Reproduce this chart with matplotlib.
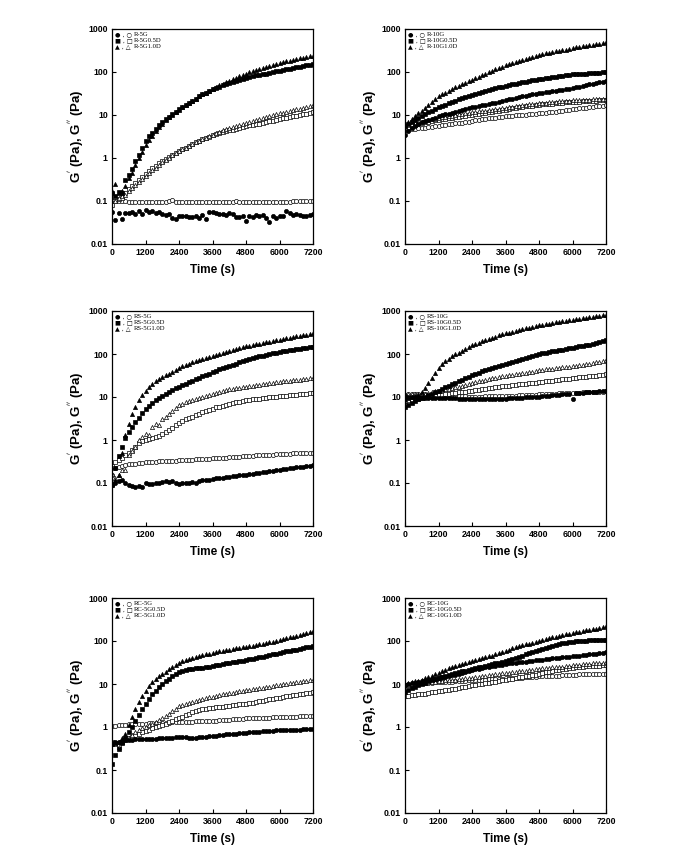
import numpy as np
import matplotlib
matplotlib.use("Agg")
import matplotlib.pyplot as plt

plt.rcParams['font.family'] = ['Liberation Sans', 'DejaVu Sans']

# time grid (s), one point every 120 s
time_s = np.arange(0, 7201, 120)

# ---------------- R-5G ----------------
r5g_gp = [0.055, 0.036, 0.052, 0.038, 0.052, 0.052, 0.055, 0.050, 0.058, 0.050, 0.062,
          0.056, 0.058, 0.052, 0.055, 0.050, 0.048, 0.050, 0.040, 0.038, 0.045,
          0.045, 0.046, 0.042, 0.042, 0.044, 0.040, 0.048, 0.038, 0.056, 0.055,
          0.052, 0.050, 0.050, 0.048, 0.052, 0.050, 0.042, 0.043, 0.045, 0.035,
          0.044, 0.042, 0.048, 0.046, 0.048, 0.040, 0.032, 0.044, 0.040, 0.046,
          0.045, 0.058, 0.054, 0.048, 0.050, 0.048, 0.045, 0.046, 0.048, 0.050]
r5g_gpp = [0.100, 0.100, 0.100, 0.098, 0.098, 0.097, 0.097, 0.096, 0.096, 0.095, 0.097,
           0.097, 0.096, 0.095, 0.096, 0.097, 0.096, 0.098, 0.105, 0.097, 0.096,
           0.096, 0.095, 0.095, 0.096, 0.095, 0.096, 0.095, 0.094, 0.095, 0.094,
           0.094, 0.095, 0.094, 0.095, 0.096, 0.097, 0.102, 0.097, 0.096, 0.095,
           0.094, 0.095, 0.095, 0.096, 0.094, 0.095, 0.095, 0.094, 0.096, 0.095,
           0.096, 0.095, 0.097, 0.098, 0.099, 0.099, 0.100, 0.101, 0.100, 0.100]
r5g05_gp = [0.15, 0.13, 0.16, 0.15, 0.30, 0.40, 0.55, 0.85, 1.2, 1.7, 2.5,
            3.2, 3.9, 4.8, 5.8, 6.8, 8.0, 9.2, 10.5, 12, 13.5,
            15.5, 17, 19, 21, 24, 27, 30, 33, 36, 40,
            43, 46, 49, 52, 55, 58, 62, 66, 70, 74,
            77, 80, 83, 86, 89, 92, 96, 100, 104, 108,
            112, 116, 120, 124, 128, 133, 138, 143, 149, 155]
r5g05_gpp = [0.08, 0.10, 0.11, 0.12, 0.15, 0.19, 0.22, 0.26, 0.30, 0.36, 0.42,
             0.50, 0.58, 0.66, 0.75, 0.85, 0.95, 1.05, 1.2, 1.3, 1.45,
             1.6, 1.75, 1.9, 2.1, 2.3, 2.5, 2.7, 2.9, 3.1, 3.4,
             3.6, 3.8, 4.0, 4.2, 4.4, 4.6, 4.8, 5.0, 5.2, 5.5,
             5.7, 5.9, 6.1, 6.3, 6.6, 6.8, 7.1, 7.4, 7.7, 8.0,
             8.3, 8.6, 9.0, 9.3, 9.7, 10.0, 10.4, 10.8, 11.2, 11.5]
r5g10_gp = [0.17, 0.25, 0.15, 0.17, 0.22, 0.35, 0.45, 0.70, 1.0, 1.4, 2.0,
            2.6, 3.3, 4.2, 5.2, 6.3, 7.5, 8.8, 10, 11.5, 13,
            15, 17, 19, 21, 24, 27, 30, 33, 36, 40,
            45, 49, 53, 58, 63, 68, 73, 79, 85, 92,
            98, 104, 110, 117, 124, 131, 138, 145, 152, 160,
            168, 176, 184, 192, 200, 208, 216, 224, 232, 240]
r5g10_gpp = [0.11, 0.10, 0.12, 0.13, 0.14, 0.17, 0.20, 0.24, 0.28, 0.33, 0.38,
             0.45, 0.52, 0.60, 0.70, 0.80, 0.90, 1.0, 1.15, 1.3, 1.45,
             1.6, 1.75, 1.9, 2.1, 2.3, 2.5, 2.7, 2.9, 3.2, 3.5,
             3.8, 4.1, 4.4, 4.7, 5.0, 5.3, 5.6, 5.9, 6.2, 6.6,
             7.0, 7.4, 7.8, 8.2, 8.6, 9.0, 9.4, 9.9, 10.4, 10.9,
             11.4, 11.9, 12.4, 12.9, 13.5, 14.1, 14.7, 15.4, 16.1, 17]

# ---------------- R-10G ----------------
r10g_gp = [3.5, 4.2, 4.9, 5.5, 6.1, 6.7, 7.2, 7.7, 8.2, 8.7, 9.3,
           9.8, 10.3, 10.8, 11.3, 11.8, 12.3, 12.9, 13.5, 14.2, 15,
           15.6, 16.2, 16.8, 17.4, 18, 18.6, 19.3, 20, 21, 22,
           23, 24, 25, 26, 27, 28, 29, 30, 31, 32,
           33, 34, 35, 36, 37, 38, 39, 40, 41, 42,
           44, 46, 48, 50, 52, 54, 56, 58, 60, 62]
r10g_gpp = [4.5, 4.6, 4.7, 4.8, 4.9, 5.0, 5.1, 5.2, 5.3, 5.45, 5.6,
            5.75, 5.9, 6.05, 6.2, 6.35, 6.5, 6.65, 6.8, 7.0, 7.3,
            7.5, 7.7, 7.9, 8.1, 8.3, 8.5, 8.7, 8.9, 9.1, 9.3,
            9.45, 9.6, 9.75, 9.9, 10.05, 10.2, 10.4, 10.6, 10.8, 11,
            11.2, 11.4, 11.6, 11.8, 12, 12.3, 12.6, 12.9, 13.3, 13.7,
            14, 14.3, 14.6, 14.9, 15.2, 15.5, 15.8, 16.2, 16.6, 17]
r10g05_gp = [5.5, 6.2, 7.0, 7.8, 8.6, 9.5, 10.5, 11.5, 12.6, 13.8, 15,
             16.2, 17.4, 18.6, 20, 21.5, 23, 24.5, 26, 27.5, 29,
             30.5, 32, 34, 36, 38, 40, 42, 44, 46, 48,
             50, 52, 54, 56, 58, 60, 62, 64, 66, 68,
             70, 72, 74, 76, 78, 80, 82, 84, 86, 88,
             89, 90, 91, 92, 94, 95, 96, 97, 98, 100]
r10g05_gpp = [5.0, 5.3, 5.6, 5.9, 6.2, 6.5, 6.8, 7.0, 7.3, 7.5, 7.7,
              7.9, 8.1, 8.3, 8.5, 8.8, 9.0, 9.3, 9.5, 9.8, 10,
              10.3, 10.6, 10.9, 11.2, 11.5, 11.8, 12.2, 12.6, 13, 13.4,
              13.8, 14.2, 14.6, 15, 15.4, 15.8, 16.2, 16.6, 17, 17.3,
              17.6, 17.9, 18.2, 18.5, 18.8, 19.1, 19.4, 19.7, 20, 20.2,
              20.4, 20.6, 20.8, 21, 21.2, 21.4, 21.6, 21.8, 22, 22]
r10g10_gp = [6, 7, 8, 9.5, 11, 12.5, 14.5, 17, 20, 23, 27,
             30, 33, 36, 40, 44, 48, 52, 56, 61, 66,
             72, 78, 85, 92, 100, 108, 116, 124, 133, 145,
             155, 165, 175, 185, 195, 205, 215, 225, 235, 248,
             260, 270, 280, 290, 300, 310, 320, 332, 345, 360,
             372, 384, 396, 408, 420, 432, 445, 458, 472, 490]
r10g10_gpp = [5.5, 5.8, 6.1, 6.4, 6.7, 7.0, 7.3, 7.6, 7.9, 8.2, 8.5,
              8.8, 9.1, 9.4, 9.7, 10, 10.3, 10.6, 10.9, 11.2, 11.5,
              11.8, 12.1, 12.4, 12.7, 13, 13.3, 13.6, 14, 14.4, 14.8,
              15.2, 15.6, 16, 16.4, 16.8, 17.2, 17.6, 18, 18.4, 18.8,
              19.2, 19.5, 19.8, 20.1, 20.4, 20.7, 21, 21.3, 21.6, 21.9,
              22.1, 22.3, 22.5, 22.7, 22.9, 23.1, 23.3, 23.5, 23.7, 24]

# ---------------- RS-5G ----------------
rs5g_gp = [0.09, 0.10, 0.11, 0.12, 0.10, 0.09, 0.085, 0.08, 0.083, 0.082, 0.10,
           0.095, 0.095, 0.098, 0.10, 0.105, 0.11, 0.105, 0.11, 0.10, 0.095,
           0.10, 0.10, 0.10, 0.105, 0.10, 0.11, 0.115, 0.12, 0.12, 0.125,
           0.128, 0.13, 0.133, 0.136, 0.14, 0.143, 0.146, 0.15, 0.153, 0.157,
           0.16, 0.165, 0.17, 0.175, 0.18, 0.185, 0.19, 0.195, 0.20, 0.205,
           0.21, 0.215, 0.22, 0.225, 0.23, 0.235, 0.24, 0.245, 0.25, 0.26]
rs5g_gpp = [0.15, 0.22, 0.24, 0.25, 0.26, 0.27, 0.27, 0.28, 0.29, 0.29, 0.30,
            0.30, 0.31, 0.31, 0.32, 0.32, 0.32, 0.33, 0.33, 0.33, 0.34,
            0.34, 0.34, 0.35, 0.35, 0.36, 0.36, 0.37, 0.37, 0.37, 0.38,
            0.38, 0.38, 0.39, 0.39, 0.40, 0.40, 0.41, 0.41, 0.42, 0.42,
            0.43, 0.43, 0.44, 0.44, 0.45, 0.45, 0.46, 0.46, 0.47, 0.47,
            0.48, 0.48, 0.48, 0.49, 0.49, 0.49, 0.50, 0.50, 0.51, 0.51]
rs5g05_gp = [0.09, 0.22, 0.42, 0.7, 1.1, 1.5, 2.0, 2.6, 3.3, 4.2, 5.2,
             6.3, 7.4, 8.5, 9.6, 10.8, 12, 13.3, 14.6, 16, 17.5,
             19, 20.5, 22, 24, 26, 28, 30, 32.5, 35, 38,
             41, 44, 47, 50, 53, 56, 60, 64, 68, 72,
             76, 80, 84, 88, 92, 96, 100, 104, 108, 112,
             116, 120, 124, 127, 130, 133, 137, 141, 145, 148]
rs5g05_gpp = [0.25, 0.30, 0.35, 0.38, 0.45, 0.50, 0.60, 0.70, 0.85, 0.95, 1.0,
              1.05, 1.1, 1.2, 1.25, 1.35, 1.5, 1.7, 1.95, 2.2, 2.5,
              2.75, 3.0, 3.25, 3.5, 3.8, 4.1, 4.4, 4.7, 5.0, 5.4,
              5.7, 6.0, 6.3, 6.6, 6.9, 7.2, 7.5, 7.8, 8.1, 8.4,
              8.6, 8.8, 9.0, 9.2, 9.4, 9.6, 9.8, 10, 10.2, 10.4,
              10.6, 10.8, 11, 11.2, 11.4, 11.6, 11.8, 12, 12.2, 12.4]
rs5g10_gp = [0.10, 0.12, 0.15, 0.5, 1.3, 2.3, 4.0, 6.0, 8.5, 11, 14,
             17, 20, 23, 26, 29, 32, 35, 39, 43, 47,
             52, 56, 60, 64, 68, 72, 76, 81, 86, 92,
             97, 102, 107, 112, 118, 124, 130, 136, 142, 150,
             156, 162, 168, 174, 180, 187, 194, 201, 208, 216,
             224, 232, 240, 248, 256, 264, 272, 281, 290, 300]
rs5g10_gpp = [0.16, 0.13, 0.15, 0.2, 0.2, 0.45, 0.55, 0.7, 1.0, 1.2, 1.4,
              1.3, 2.0, 2.3, 2.2, 3.0, 3.5, 4.1, 4.8, 5.6, 6.5,
              7.0, 7.5, 8.0, 8.5, 9.0, 9.6, 10.2, 10.8, 11.4, 12,
              12.6, 13.2, 13.8, 14.4, 15, 15.5, 16, 16.5, 17, 17.5,
              18, 18.5, 19, 19.5, 20, 20.5, 21, 21.5, 22, 22.5,
              23, 23.5, 24, 24.5, 25, 25.5, 26, 26.5, 27, 27.5]

# ---------------- RS-10G ----------------
rs10g_gp = [10.5, 10.2, 10, 9.9, 9.8, 9.8, 9.7, 9.7, 9.6, 9.6, 9.5,
            9.5, 9.4, 9.4, 9.3, 9.3, 9.2, 9.2, 9.1, 9.1, 9.0,
            9.0, 9.0, 9.0, 9.0, 9.0, 9.0, 9.0, 9.1, 9.1, 9.2,
            9.3, 9.4, 9.5, 9.6, 9.7, 9.8, 9.9, 10, 10.1, 10.2,
            10.4, 10.6, 10.8, 11, 11.2, 11.4, 11.6, 11.8, 12, 9.2,
            12.2, 12.4, 12.6, 12.8, 13, 13.2, 13.4, 13.6, 13.8, 14]
rs10g_gpp = [11, 11.5, 11.8, 12, 12, 11.8, 11.6, 11.4, 11.2, 11, 10.8,
             10.7, 10.6, 10.5, 10.4, 10.4, 10.3, 10.3, 10.3, 10.2, 10.2,
             10.2, 10.2, 10.2, 10.3, 10.3, 10.3, 10.4, 10.4, 10.5, 10.5,
             10.6, 10.7, 10.8, 10.9, 11, 11.1, 11.2, 11.3, 11.4, 11.5,
             11.6, 11.7, 11.8, 11.9, 12, 12.1, 12.2, 12.3, 12.4, 12.5,
             12.6, 12.7, 12.8, 12.9, 13, 13.1, 13.2, 13.3, 13.4, 13.5]
rs10g05_gp = [6.0, 6.5, 7.2, 8.0, 8.8, 9.5, 10.2, 11, 11.8, 12.8, 14,
              15.5, 17, 18.5, 20, 21.5, 23, 25, 27, 29.5, 32,
              34.5, 37, 39.5, 42, 44.5, 47, 50, 53, 56, 60,
              63, 66, 69, 72, 76, 80, 84, 88, 93, 99,
              103, 107, 111, 115, 119, 123, 127, 131, 135, 140,
              145, 150, 155, 160, 166, 172, 180, 190, 200, 210]
rs10g05_gpp = [8, 8.3, 8.6, 8.9, 9.2, 9.5, 9.8, 10.1, 10.4, 10.7, 11,
               11.3, 11.6, 11.9, 12.2, 12.5, 12.8, 13.1, 13.4, 13.7, 14,
               14.4, 14.8, 15.2, 15.6, 16, 16.4, 16.8, 17.2, 17.6, 18,
               18.4, 18.8, 19.2, 19.6, 20, 20.4, 20.8, 21.2, 21.6, 22,
               22.5, 23, 23.5, 24, 24.5, 25, 25.6, 26.2, 26.8, 27.4,
               28, 28.6, 29.2, 29.8, 30.4, 31, 31.6, 32.2, 32.8, 33.5]
rs10g10_gp = [9, 9.5, 10, 10.5, 11, 13, 16, 21, 28, 37, 48,
              58, 68, 78, 88, 98, 108, 118, 130, 143, 158,
              172, 185, 198, 212, 226, 240, 255, 270, 285, 300,
              316, 332, 348, 364, 380, 396, 412, 428, 445, 462,
              478, 494, 510, 526, 542, 558, 575, 592, 610, 628,
              646, 664, 682, 700, 718, 736, 754, 772, 790, 810]
rs10g10_gpp = [12, 12, 12, 12, 12, 12, 12, 12.5, 13, 13.5, 14,
               14.5, 15, 15.6, 16.2, 16.8, 17.4, 18.2, 19, 20, 21,
               22, 23, 24, 25, 26, 27, 28, 29, 30, 31,
               32, 33, 34, 35, 36, 37, 38, 39, 40.5, 42,
               43, 44, 45, 46, 47, 48, 49, 50, 51, 52,
               53.5, 55, 56.5, 58, 60, 62, 64, 66, 68, 71]

# ---------------- RC-5G ----------------
rc5g_gp = [0.40, 0.44, 0.45, 0.47, 0.49, 0.50, 0.51, 0.52, 0.52, 0.53, 0.53,
           0.53, 0.54, 0.54, 0.55, 0.55, 0.56, 0.56, 0.56, 0.57, 0.57,
           0.57, 0.57, 0.56, 0.56, 0.56, 0.57, 0.58, 0.60, 0.61, 0.62,
           0.63, 0.64, 0.66, 0.67, 0.68, 0.69, 0.70, 0.71, 0.72, 0.74,
           0.75, 0.76, 0.77, 0.78, 0.79, 0.80, 0.81, 0.82, 0.83, 0.84,
           0.85, 0.85, 0.86, 0.86, 0.87, 0.87, 0.88, 0.88, 0.89, 0.90]
rc5g_gpp = [1.05, 1.08, 1.10, 1.12, 1.14, 1.15, 1.16, 1.17, 1.18, 1.19, 1.20,
            1.21, 1.22, 1.23, 1.24, 1.25, 1.26, 1.27, 1.28, 1.29, 1.30,
            1.31, 1.32, 1.33, 1.34, 1.35, 1.36, 1.37, 1.38, 1.39, 1.40,
            1.41, 1.43, 1.45, 1.47, 1.49, 1.51, 1.53, 1.55, 1.57, 1.59,
            1.60, 1.61, 1.62, 1.63, 1.64, 1.65, 1.66, 1.67, 1.68, 1.70,
            1.71, 1.72, 1.73, 1.74, 1.75, 1.76, 1.77, 1.78, 1.79, 1.80]
rc5g05_gp = [0.14, 0.22, 0.30, 0.42, 0.55, 0.75, 1.0, 1.4, 1.9, 2.6, 3.5,
             4.5, 5.7, 7.0, 8.5, 10, 11.5, 13, 15, 17, 19,
             20.5, 21.5, 22, 22.5, 23, 23.5, 24, 24.5, 25, 26,
             27, 28, 29, 30, 31, 32, 33, 34, 35, 36,
             37.5, 39, 40.5, 42, 43.5, 45, 47, 49, 51, 53,
             55, 57, 59, 61, 63, 65, 68, 71, 74, 78]
rc5g05_gpp = [0.45, 0.42, 0.38, 0.45, 0.50, 0.55, 0.60, 0.65, 0.70, 0.75, 0.80,
              0.87, 0.94, 1.0, 1.07, 1.14, 1.2, 1.3, 1.4, 1.5, 1.6,
              1.75, 1.9, 2.05, 2.2, 2.4, 2.5, 2.6, 2.65, 2.7, 2.8,
              2.85, 2.9, 2.95, 3.0, 3.1, 3.2, 3.3, 3.4, 3.45, 3.5,
              3.6, 3.7, 3.8, 3.95, 4.1, 4.25, 4.4, 4.55, 4.7, 4.85,
              5.0, 5.15, 5.3, 5.45, 5.6, 5.75, 5.9, 6.1, 6.3, 6.5]
rc5g10_gp = [0.40, 0.42, 0.45, 0.55, 0.70, 1.1, 1.7, 2.6, 3.8, 5.2, 7.0,
             9.0, 11, 13, 15, 17, 19.5, 22, 25, 28, 31,
             34, 37, 39, 41, 43, 45, 47, 49, 51, 53,
             55, 57, 59, 61, 63, 65, 67, 69, 71, 73,
             75, 78, 81, 84, 87, 90, 93, 97, 101, 106,
             111, 116, 121, 126, 132, 138, 144, 151, 158, 170]
rc5g10_gpp = [0.45, 0.40, 0.35, 0.45, 0.50, 0.55, 0.65, 0.75, 0.85, 0.95, 1.0,
              1.1, 1.2, 1.3, 1.45, 1.6, 1.8, 2.0, 2.3, 2.6, 3.0,
              3.3, 3.5, 3.7, 3.9, 4.1, 4.3, 4.5, 4.7, 4.9, 5.1,
              5.3, 5.5, 5.7, 5.9, 6.1, 6.3, 6.5, 6.7, 6.9, 7.1,
              7.3, 7.5, 7.7, 7.9, 8.1, 8.4, 8.7, 9.0, 9.3, 9.6,
              9.9, 10.2, 10.5, 10.8, 11.1, 11.4, 11.7, 12, 12.3, 12.6]

# ---------------- RC-10G ----------------
rc10g_gp = [9.5, 10, 10.4, 10.8, 11.2, 11.6, 12, 12.4, 12.8, 13.2, 13.6,
            14.2, 14.8, 15.4, 16, 16.6, 17.2, 18, 19, 20, 21,
            22, 22.8, 23.6, 24.4, 25.2, 26, 26.8, 27.6, 28.4, 29.3,
            30, 30.7, 31.4, 32, 32.6, 33.3, 34, 34.7, 35.4, 36,
            36.8, 37.6, 38.4, 39.2, 40, 40.8, 41.6, 42.4, 43.2, 44,
            45, 46, 47, 48, 49, 50, 51, 52, 53, 55]
rc10g_gpp = [9.5, 9.7, 9.9, 10.1, 10.3, 10.4, 10.5, 10.6, 10.7, 10.85, 11,
             11.1, 11.2, 11.3, 11.4, 11.5, 11.6, 11.75, 11.9, 12.1, 12.3,
             12.4, 12.5, 12.6, 12.7, 12.8, 12.9, 13, 13.1, 13.3, 13.5,
             13.6, 13.7, 13.8, 13.9, 14, 14.2, 14.4, 14.6, 14.8, 15,
             15.1, 15.2, 15.3, 15.4, 15.5, 15.7, 15.9, 16.1, 16.3, 16.5,
             16.6, 16.7, 16.8, 16.9, 17, 17.1, 17.2, 17.3, 17.4, 17.5]
rc10g05_gp = [6.5, 7.2, 7.9, 8.6, 9.3, 10, 10.8, 11.6, 12.4, 13.2, 14,
              14.8, 15.6, 16.4, 17.2, 18, 18.8, 19.7, 20.6, 21.5, 22.5,
              23.5, 24.5, 25.5, 26.5, 27.5, 28.5, 30, 31.5, 33, 35,
              37, 39, 41, 43, 46, 49, 52, 55, 58, 62,
              66, 70, 74, 78, 82, 85, 88, 91, 94, 96,
              98, 100, 101, 102, 103, 104, 105, 106, 107, 108]
rc10g05_gpp = [5.3, 5.4, 5.5, 5.6, 5.7, 5.8, 6.0, 6.2, 6.4, 6.6, 6.8,
               7.0, 7.2, 7.4, 7.6, 7.8, 8.0, 8.3, 8.6, 8.9, 9.3,
               9.6, 9.9, 10.2, 10.5, 10.8, 11.1, 11.4, 11.7, 12.1, 12.6,
               13, 13.4, 13.8, 14.2, 14.6, 15, 15.5, 16, 16.6, 17.3,
               18, 18.7, 19.4, 20.1, 20.8, 21.5, 22.2, 22.9, 23.5, 24,
               24.4, 24.8, 25.2, 25.6, 26, 26.3, 26.6, 26.9, 27.2, 27.5]
rc10g10_gp = [10, 10.5, 11, 11.5, 12, 12.7, 13.5, 14.5, 15.5, 17, 18.5,
              20, 21.5, 23, 24.5, 26, 27.5, 29, 30.5, 32, 34,
              36, 38, 40, 42, 44, 46, 49, 52, 55, 59,
              63, 67, 71, 75, 79, 83, 87, 91, 96, 102,
              107, 112, 117, 122, 127, 132, 137, 142, 147, 152,
              158, 164, 170, 176, 182, 188, 195, 202, 210, 220]
rc10g10_gpp = [9.5, 9.7, 9.9, 10.1, 10.3, 10.5, 10.7, 10.9, 11.1, 11.4, 11.7,
               11.9, 12.1, 12.3, 12.5, 12.7, 12.9, 13.2, 13.5, 13.8, 14.1,
               14.5, 14.9, 15.3, 15.7, 16.1, 16.5, 16.9, 17.3, 17.7, 18.1,
               18.5, 18.9, 19.3, 19.7, 20.1, 20.5, 21, 21.5, 22, 22.5,
               23, 23.4, 23.8, 24.2, 24.6, 25, 25.5, 26, 26.5, 27,
               27.5, 28, 28.5, 29, 29.5, 30, 30.5, 31, 31.5, 32]

# panel: (legend names, [(G', G'') for each sample])
panels = [
    (["R-5G", "R-5G0.5D", "R-5G1.0D"],
     [(r5g_gp, r5g_gpp), (r5g05_gp, r5g05_gpp), (r5g10_gp, r5g10_gpp)]),
    (["R-10G", "R-10G0.5D", "R-10G1.0D"],
     [(r10g_gp, r10g_gpp), (r10g05_gp, r10g05_gpp), (r10g10_gp, r10g10_gpp)]),
    (["RS-5G", "RS-5G0.5D", "RS-5G1.0D"],
     [(rs5g_gp, rs5g_gpp), (rs5g05_gp, rs5g05_gpp), (rs5g10_gp, rs5g10_gpp)]),
    (["RS-10G", "RS-10G0.5D", "RS-10G1.0D"],
     [(rs10g_gp, rs10g_gpp), (rs10g05_gp, rs10g05_gpp), (rs10g10_gp, rs10g10_gpp)]),
    (["RC-5G", "RC-5G0.5D", "RC-5G1.0D"],
     [(rc5g_gp, rc5g_gpp), (rc5g05_gp, rc5g05_gpp), (rc5g10_gp, rc5g10_gpp)]),
    (["RC-10G", "RC-10G0.5D", "RC-10G1.0D"],
     [(rc10g_gp, rc10g_gpp), (rc10g05_gp, rc10g05_gpp), (rc10g10_gp, rc10g10_gpp)]),
]

markers = ['o', 's', '^']
legend_syms = ["\u25cf , \u25cb", "\u25a0 , \u25a1", "\u25b2 , \u25b3"]
x_ticks = [0, 1200, 2400, 3600, 4800, 6000, 7200]
y_ticks = [0.01, 0.1, 1, 10, 100, 1000]
y_ticklabels = ["0.01", "0.1", "1", "10", "100", "1000"]

W, H = 689, 857
fig = plt.figure(figsize=(W / 100, H / 100), dpi=100)

col_left = [112, 405]
row_top = [29, 311, 598]
ax_w, ax_h = 201, 215

for k, (names, series) in enumerate(panels):
    r, c = divmod(k, 2)
    left = col_left[c] / W
    bottom = 1 - (row_top[r] + ax_h) / H
    ax = fig.add_axes([left, bottom, ax_w / W, ax_h / H])

    # loss moduli first, storage moduli on top
    for m, (gp, gpp) in zip(markers, series):
        ax.plot(time_s, gpp, linestyle='none', marker=m, ms=3.0,
                mfc='white', mec='black', mew=0.5, zorder=2)
    for m, (gp, gpp) in zip(markers, series):
        ax.plot(time_s, gp, linestyle='none', marker=m, ms=3.0,
                mfc='black', mec='black', mew=0.5, zorder=3)

    ax.set_yscale('log')
    ax.set_xlim(0, 7200)
    ax.set_ylim(0.01, 1000)
    ax.set_xticks(x_ticks)
    ax.set_xticklabels([str(t) for t in x_ticks])
    ax.set_yticks(y_ticks)
    ax.set_yticklabels(y_ticklabels)
    ax.minorticks_off()
    ax.tick_params(direction='in', length=3, width=0.8, labelsize=6.3, pad=3)
    for lab in ax.get_xticklabels() + ax.get_yticklabels():
        lab.set_fontweight('bold')
    for sp in ax.spines.values():
        sp.set_linewidth(0.9)

    ax.set_xlabel("Time (s)", fontsize=8.5, fontweight='bold', labelpad=5)
    ax.set_ylabel("G$^{'}$ (Pa), G$^{''}$ (Pa)", fontsize=9.5, fontweight='bold', labelpad=2)

    # legend block in the upper left corner
    for i, (sym, name) in enumerate(zip(legend_syms, names)):
        yy = 0.985 - i * 0.028
        ax.text(0.015, yy, sym, transform=ax.transAxes, fontsize=4.5,
                va='top', ha='left', family=['DejaVu Sans'])
        ax.text(0.11, yy, name, transform=ax.transAxes, fontsize=4.8,
                va='top', ha='left', family=['Liberation Serif'])

fig.savefig("out.png", dpi=100)
